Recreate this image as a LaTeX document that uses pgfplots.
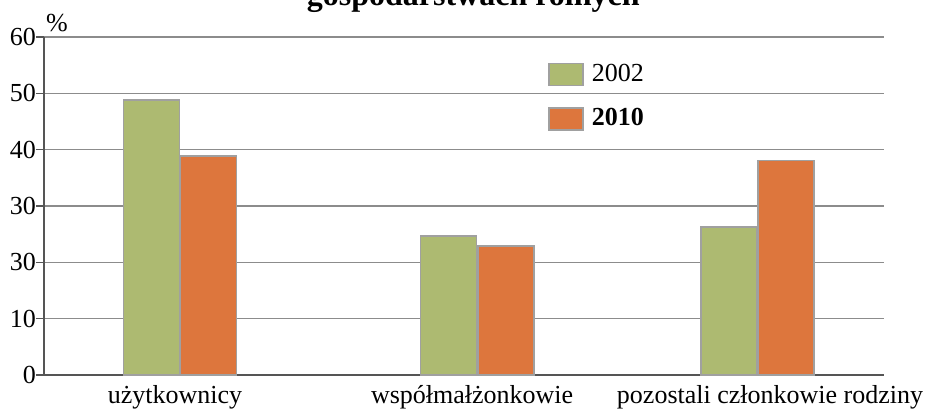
\documentclass[border=0pt]{standalone}
\usepackage{pgfplots}
\pgfplotsset{compat=1.18}
\usepackage{fontspec}
\setmainfont{Liberation Serif}
\definecolor{cgreen}{HTML}{ADBA71}
\definecolor{corange}{HTML}{DD763D}
\definecolor{cborder}{HTML}{A0A0A0}
\definecolor{cgrid}{HTML}{8C8C8C}
\definecolor{caxis}{HTML}{555555}
\begin{document}
\begin{tikzpicture}
\begin{axis}[
  name=ax,
  clip=false,
  scale only axis,
  width=420pt, height=169pt,
  xmin=0, xmax=3, ymin=0, ymax=60,
  axis x line=bottom, axis y line=left,
  axis line style={caxis, line width=0.6pt, -},
  ytick={0,10,20,30,40,50,60},
  yticklabels={0,10,30,30,40,50,60},
  ymajorgrids, grid style={cgrid, line width=0.7pt},
  ytick style={caxis, line width=0.6pt},
  tick align=outside,
  major tick length=4pt,
  xtick={0.468,1.529,2.593},
  xticklabels={użytkownicy,współmałżonkowie,pozostali członkowie rodziny},
  xtick style={draw=none},
  extra x ticks={0,1,2,3},
  extra x tick labels={},
  extra x tick style={xtick style={caxis, line width=0.6pt}, major tick length=5pt, grid=none},
  tick label style={font=\fontsize{13}{15}\selectfont},
  yticklabel style={xshift=3.5pt},
  xticklabel style={yshift=2.5pt},
  /pgf/number format/assume math mode=true,
  ybar, bar width=0.2,
  legend style={at={(rel axis cs:0.6,0.932)}, anchor=north west, draw=none, fill=none,
    font=\fontsize{13}{15}\selectfont, row sep=8pt, inner sep=0pt,
    nodes={inner xsep=4pt}},
  legend cell align=left,
  legend image code/.code={\draw[#1] (0pt,-5.5pt) rectangle (17pt,5.5pt);},
]
\addplot[bar shift=0pt, fill=cgreen, draw=cborder, line width=0.7pt] coordinates {(0.384,48.8) (1.445,24.7) (2.446,26.3)};
\addplot[bar shift=0pt, fill=corange, draw=cborder, line width=0.7pt] coordinates {(0.5875,38.9) (1.65,22.9) (2.65,38.1)};
\legend{2002,\textbf{2010}}
\node[anchor=base, font=\bfseries\fontsize{16}{19}\selectfont] at (rel axis cs:0.511,1.092) {gospodarstwach rolnych};
\node[anchor=base west, inner sep=0pt, font=\fontsize{13}{15}\selectfont] at (rel axis cs:0.002,1.015) {\%};
\end{axis}
\pgfresetboundingbox
\path[use as bounding box] ([shift={(-22pt,-17pt)}]ax.south west) rectangle ([shift={(447pt,187.5pt)}]ax.south west);
\end{tikzpicture}
\end{document}
